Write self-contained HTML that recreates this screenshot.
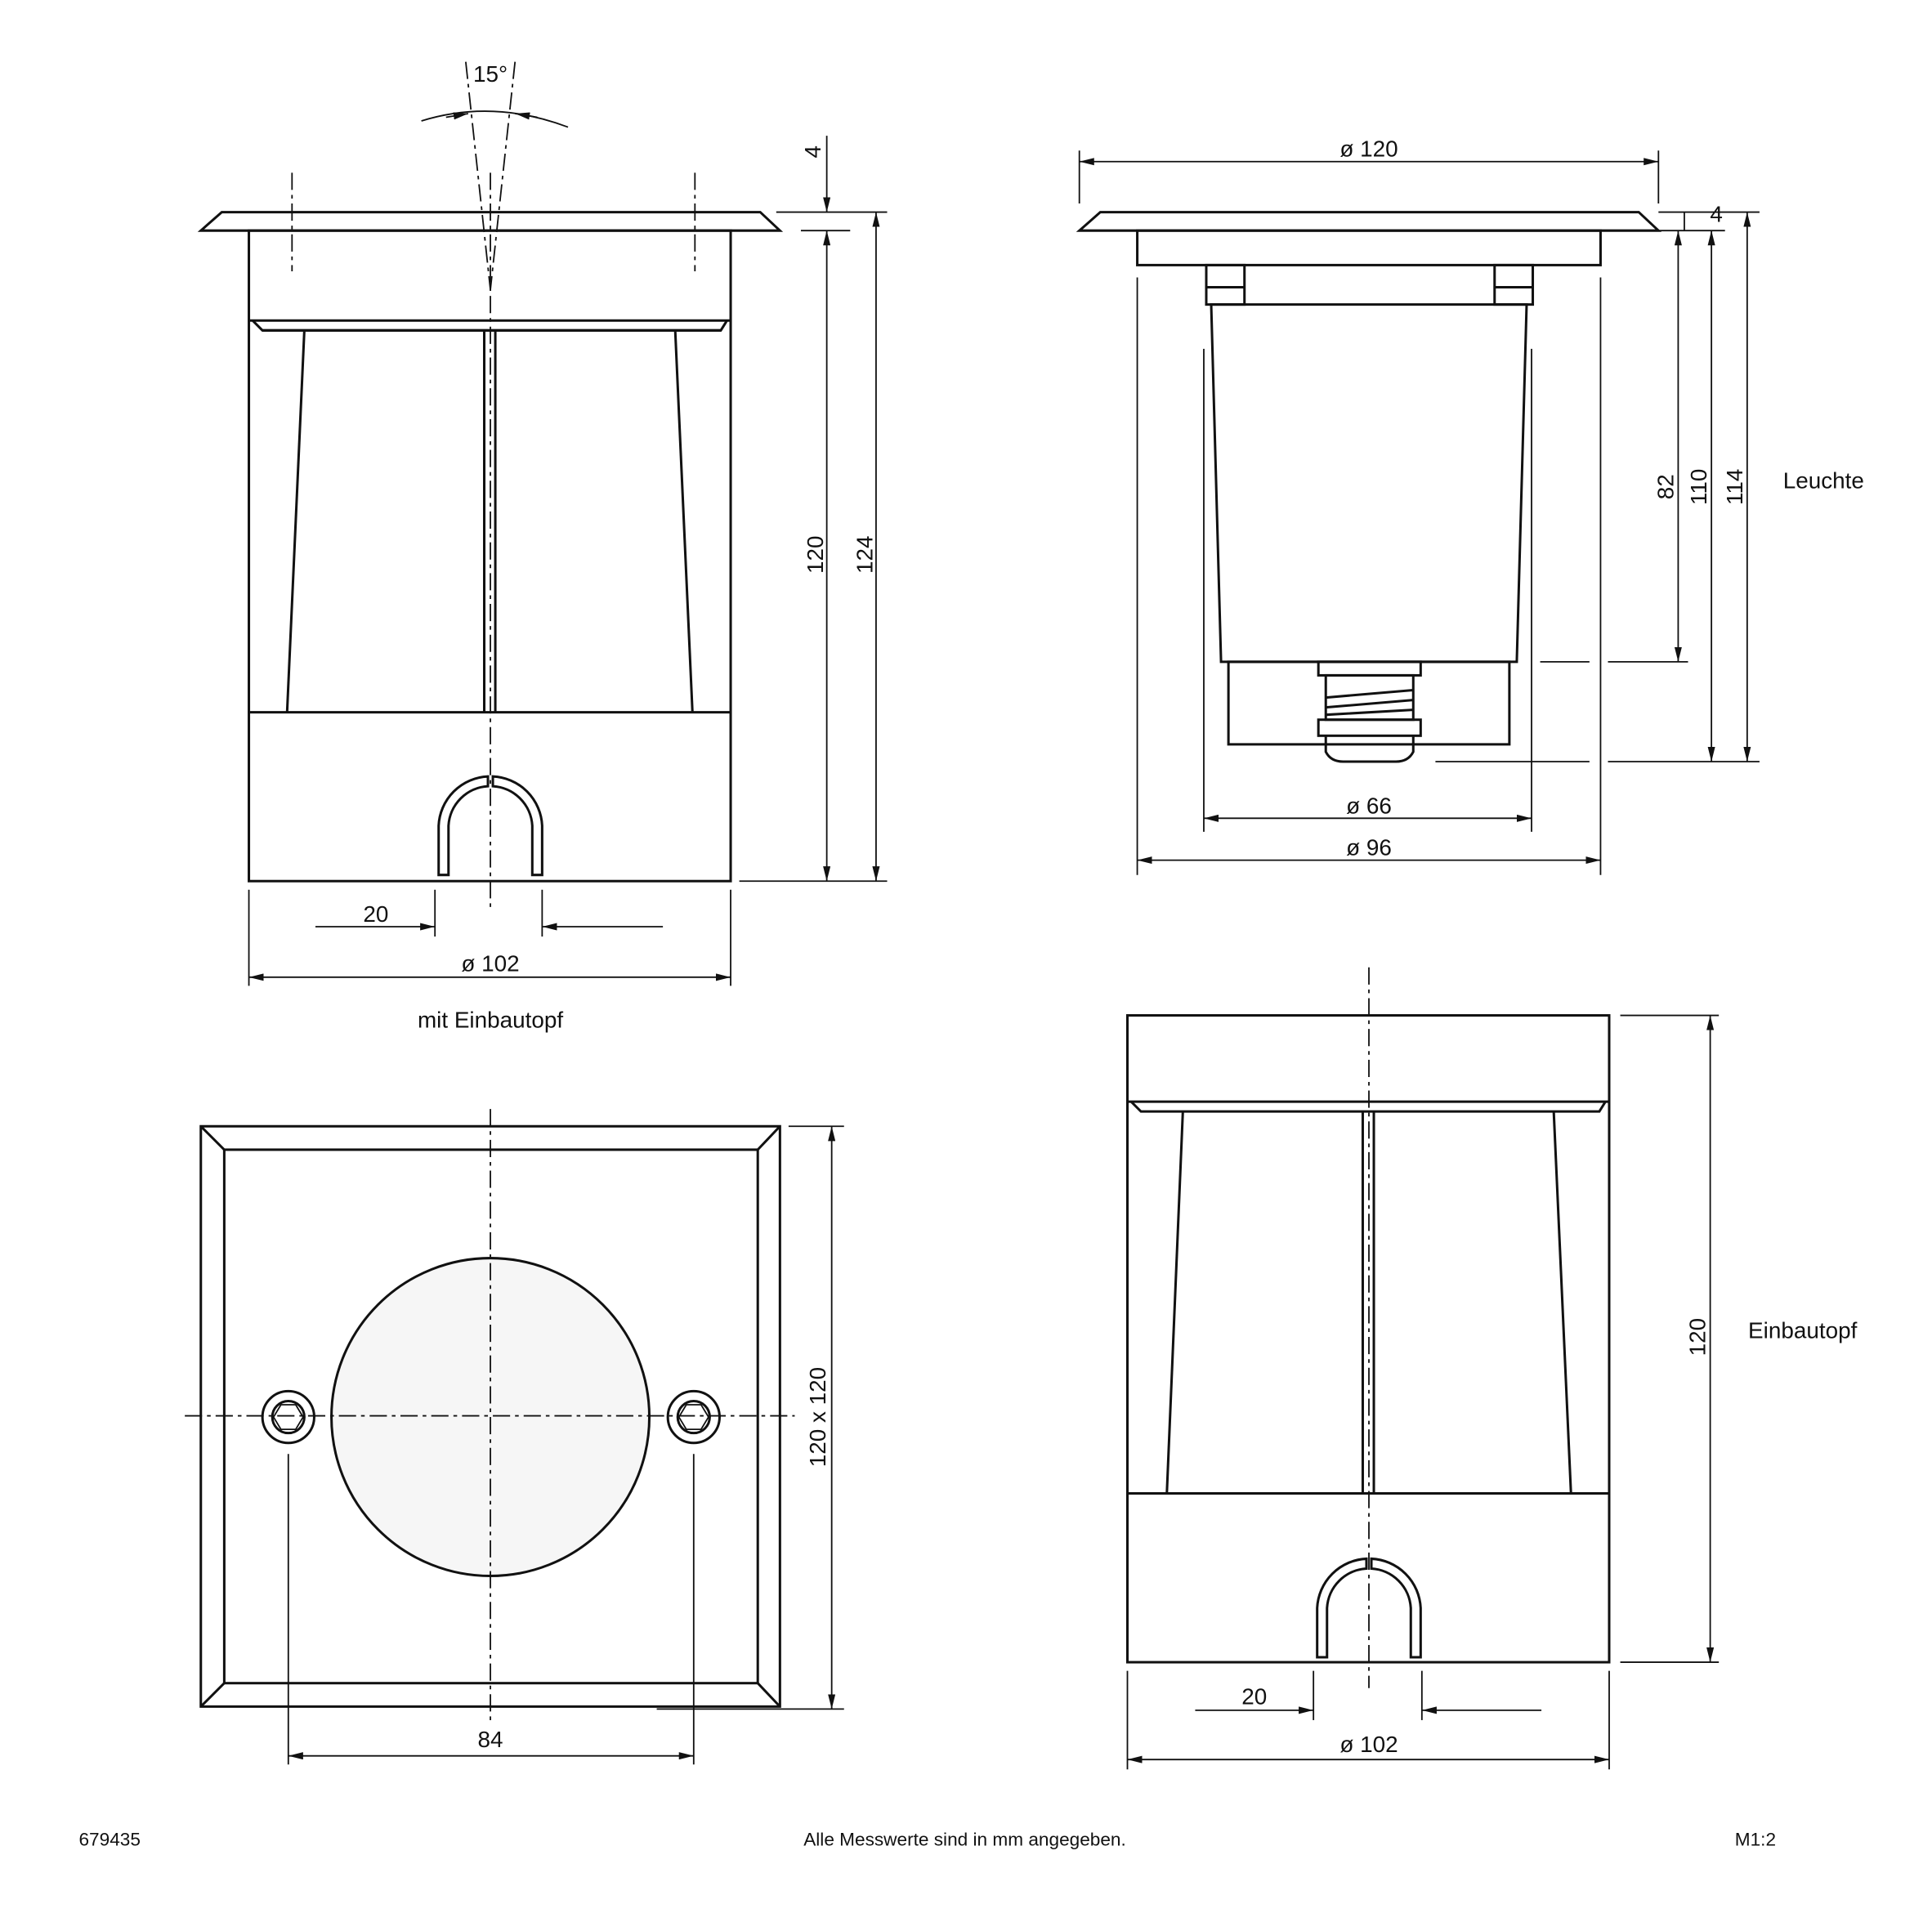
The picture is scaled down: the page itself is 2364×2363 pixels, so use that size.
<!DOCTYPE html>
<html><head><meta charset="utf-8"><style>
html,body{margin:0;padding:0;background:#fff}
svg{display:block}
text{font-family:"Liberation Sans",sans-serif;font-size:18.5px;fill:#111}
</style></head><body>
<svg width="2364" height="2363" viewBox="0 0 1568 1567" xmlns="http://www.w3.org/2000/svg">
<defs>
<marker id="a" viewBox="0 0 12 6" refX="12" refY="3" markerWidth="12" markerHeight="6" orient="auto-start-reverse" markerUnits="userSpaceOnUse"><path d="M0,0 L12,3 L0,6z" fill="#111"/></marker>
</defs>
<g fill="none" stroke="#111" stroke-width="2">
<!-- TOP LEFT -->
<path d="M180,172 L617,172 L633,187 L163,187 Z"/>
<rect x="202" y="187" width="391" height="528"/>
<line x1="202" y1="260" x2="593" y2="260"/>
<path d="M205,260 L213,268 L585,268 L590,260"/>
<line x1="213" y1="268" x2="585" y2="268"/>
<path d="M393,268 L393,578 M402,268 L402,578"/>
<line x1="247" y1="268" x2="233" y2="578"/>
<line x1="548" y1="268" x2="562" y2="578"/>
<line x1="202" y1="578" x2="593" y2="578"/>
<path d="M396,630 A42,42 0 0 0 356,670 L356,710 L364,710 L364,670 A34,34 0 0 1 396,638 Z"/>
<path d="M400,630 A42,42 0 0 1 440,670 L440,710 L432,710 L432,670 A34,34 0 0 0 400,638 Z"/>
</g>
<g fill="none" stroke="#111" stroke-width="1.2" stroke-dasharray="14,4,3,4">
<line x1="398" y1="140" x2="398" y2="740"/>
<line x1="237" y1="140" x2="237" y2="220"/>
<line x1="564" y1="140" x2="564" y2="220"/>
<line x1="378" y1="50" x2="398" y2="235"/>
<line x1="418" y1="50" x2="398" y2="235"/>
</g>
<g fill="none" stroke="#111" stroke-width="1.2">
<path d="M342,98 Q400,80 461,103"/>
<line x1="362" y1="95" x2="380" y2="92" marker-end="url(#a)"/>
<line x1="436" y1="95" x2="418" y2="92" marker-end="url(#a)"/>
<line x1="671" y1="110" x2="671" y2="172" marker-end="url(#a)"/>
<line x1="671" y1="187" x2="671" y2="715" marker-start="url(#a)" marker-end="url(#a)"/>
<line x1="711" y1="172" x2="711" y2="715" marker-start="url(#a)" marker-end="url(#a)"/>
<line x1="630" y1="172" x2="720" y2="172"/>
<line x1="650" y1="187" x2="690" y2="187"/>
<line x1="600" y1="715" x2="720" y2="715"/>
<line x1="256" y1="752" x2="353" y2="752" marker-end="url(#a)"/>
<line x1="538" y1="752" x2="440" y2="752" marker-end="url(#a)"/>
<line x1="202" y1="793" x2="593" y2="793" marker-start="url(#a)" marker-end="url(#a)"/>
<line x1="202" y1="722" x2="202" y2="800"/><line x1="593" y1="722" x2="593" y2="800"/>
<line x1="353" y1="722" x2="353" y2="760"/><line x1="440" y1="722" x2="440" y2="760"/>
</g>
<text x="398" y="66" text-anchor="middle">15°</text>
<text x="668" y="450" text-anchor="middle" transform="rotate(-90 668 450)">120</text>
<text x="708" y="450" text-anchor="middle" transform="rotate(-90 708 450)">124</text>
<text x="682" y="139" text-anchor="middle" transform="rotate(-90 666 139)">4</text>
<text x="305" y="748" text-anchor="middle">20</text>
<text x="398" y="788" text-anchor="middle">ø 102</text>
<text x="398" y="834" text-anchor="middle">mit Einbautopf</text>

<!-- TOP RIGHT -->
<g fill="none" stroke="#111" stroke-width="2">
<path d="M893,172 L1330,172 L1346,187 L876,187 Z"/>
<rect x="923" y="187" width="376" height="28"/>
<rect x="979" y="215" width="31" height="32"/><line x1="979" y1="233" x2="1010" y2="233"/>
<rect x="1213" y="215" width="31" height="32"/><line x1="1213" y1="233" x2="1244" y2="233"/>
<path d="M983,247 L991,537 L1231,537 L1239,247 Z"/>
<rect x="997" y="537" width="228" height="67"/>
<rect x="1070" y="537" width="83" height="11"/>
<rect x="1076" y="548" width="71" height="36"/>
<path d="M1076,566 L1147,560 M1076,574 L1147,568 M1076,580 L1147,576"/>
<rect x="1070" y="584" width="83" height="13"/>
<path d="M1076,597 L1076,610 Q1080,618 1090,618 L1133,618 Q1143,618 1147,610 L1147,597"/>
</g>
<g fill="none" stroke="#111" stroke-width="1.2">
<line x1="876" y1="131" x2="1346" y2="131" marker-start="url(#a)" marker-end="url(#a)"/>
<line x1="876" y1="122" x2="876" y2="165"/><line x1="1346" y1="122" x2="1346" y2="165"/>
<line x1="977" y1="664" x2="1243" y2="664" marker-start="url(#a)" marker-end="url(#a)"/>
<line x1="977" y1="283" x2="977" y2="675"/><line x1="1243" y1="283" x2="1243" y2="675"/>
<line x1="923" y1="698" x2="1299" y2="698" marker-start="url(#a)" marker-end="url(#a)"/>
<line x1="923" y1="225" x2="923" y2="710"/><line x1="1299" y1="225" x2="1299" y2="710"/>
<line x1="1367" y1="172" x2="1367" y2="187"/>
<line x1="1362" y1="187" x2="1362" y2="537" marker-start="url(#a)" marker-end="url(#a)"/>
<line x1="1389" y1="187" x2="1389" y2="618" marker-start="url(#a)" marker-end="url(#a)"/>
<line x1="1418" y1="172" x2="1418" y2="618" marker-start="url(#a)" marker-end="url(#a)"/>
<line x1="1346" y1="172" x2="1428" y2="172"/>
<line x1="1346" y1="187" x2="1400" y2="187"/>
<line x1="1250" y1="537" x2="1290" y2="537"/><line x1="1305" y1="537" x2="1370" y2="537"/>
<line x1="1165" y1="618" x2="1290" y2="618"/><line x1="1305" y1="618" x2="1428" y2="618"/>
</g>
<text x="1111" y="127" text-anchor="middle">ø 120</text>
<text x="1111" y="660" text-anchor="middle">ø 66</text>
<text x="1111" y="694" text-anchor="middle">ø 96</text>
<text x="1358" y="395" text-anchor="middle" transform="rotate(-90 1358 395)">82</text>
<text x="1385" y="395" text-anchor="middle" transform="rotate(-90 1385 395)">110</text>
<text x="1414" y="395" text-anchor="middle" transform="rotate(-90 1414 395)">114</text>
<text x="1393" y="180" text-anchor="middle">4</text>
<text x="1480" y="396" text-anchor="middle">Leuchte</text>

<!-- BOTTOM LEFT -->
<g fill="none" stroke="#111" stroke-width="2">
<rect x="163" y="914" width="470" height="471"/>
<rect x="182" y="933" width="433" height="433"/>
<path d="M163,914 L182,933 M633,914 L615,933 M163,1385 L182,1366 M633,1385 L615,1366"/>
<circle cx="398" cy="1150" r="129" fill="#f6f6f6"/>
<circle cx="234" cy="1150" r="21"/><circle cx="234" cy="1150" r="13"/>
<path d="M222,1150 L228,1140 L240,1140 L246,1150 L240,1160 L228,1160 Z" stroke-width="1.2"/>
<circle cx="563" cy="1150" r="21"/><circle cx="563" cy="1150" r="13"/>
<path d="M551,1150 L557,1140 L569,1140 L575,1150 L569,1160 L557,1160 Z" stroke-width="1.2"/>
</g>
<g fill="none" stroke="#111" stroke-width="1.2" stroke-dasharray="14,4,3,4">
<line x1="150" y1="1149" x2="645" y2="1149"/>
<line x1="398" y1="900" x2="398" y2="1400"/>
</g>
<g fill="none" stroke="#111" stroke-width="1.2">
<line x1="234" y1="1180" x2="234" y2="1432"/><line x1="563" y1="1180" x2="563" y2="1432"/>
<line x1="234" y1="1425" x2="563" y2="1425" marker-start="url(#a)" marker-end="url(#a)"/>
<line x1="675" y1="914" x2="675" y2="1387" marker-start="url(#a)" marker-end="url(#a)"/>
<line x1="640" y1="914" x2="685" y2="914"/><line x1="533" y1="1387" x2="685" y2="1387"/>
</g>
<text x="398" y="1418" text-anchor="middle">84</text>
<text x="670" y="1150" text-anchor="middle" transform="rotate(-90 670 1150)">120 x 120</text>

<!-- BOTTOM RIGHT -->
<g fill="none" stroke="#111" stroke-width="2">
<rect x="915" y="824" width="391" height="525"/>
<line x1="915" y1="894" x2="1306" y2="894"/>
<path d="M918,894 L926,902 L1298,902 L1303,894"/>
<path d="M1106,902 L1106,1212 M1115,902 L1115,1212"/>
<line x1="960" y1="902" x2="947" y2="1212"/>
<line x1="1261" y1="902" x2="1275" y2="1212"/>
<line x1="915" y1="1212" x2="1306" y2="1212"/>
<path d="M1109,1265 A42,42 0 0 0 1069,1305 L1069,1345 L1077,1345 L1077,1305 A34,34 0 0 1 1109,1273 Z"/>
<path d="M1113,1265 A42,42 0 0 1 1153,1305 L1153,1345 L1145,1345 L1145,1305 A34,34 0 0 0 1113,1273 Z"/>
</g>
<g fill="none" stroke="#111" stroke-width="1.2" stroke-dasharray="14,4,3,4">
<line x1="1111" y1="785" x2="1111" y2="1370"/>
</g>
<g fill="none" stroke="#111" stroke-width="1.2">
<line x1="1388" y1="824" x2="1388" y2="1349" marker-start="url(#a)" marker-end="url(#a)"/>
<line x1="1315" y1="824" x2="1395" y2="824"/><line x1="1315" y1="1349" x2="1395" y2="1349"/>
<line x1="970" y1="1388" x2="1066" y2="1388" marker-end="url(#a)"/>
<line x1="1251" y1="1388" x2="1154" y2="1388" marker-end="url(#a)"/>
<line x1="1066" y1="1356" x2="1066" y2="1396"/><line x1="1154" y1="1356" x2="1154" y2="1396"/>
<line x1="915" y1="1428" x2="1306" y2="1428" marker-start="url(#a)" marker-end="url(#a)"/>
<line x1="915" y1="1356" x2="915" y2="1436"/><line x1="1306" y1="1356" x2="1306" y2="1436"/>
</g>
<text x="1384" y="1085" text-anchor="middle" transform="rotate(-90 1384 1085)">120</text>
<text x="1463" y="1086" text-anchor="middle">Einbautopf</text>
<text x="1018" y="1383" text-anchor="middle">20</text>
<text x="1111" y="1422" text-anchor="middle">ø 102</text>

<!-- FOOTER -->
<text x="64" y="1498" style="font-size:15px">679435</text>
<text x="783" y="1498" text-anchor="middle" style="font-size:15px">Alle Messwerte sind in mm angegeben.</text>
<text x="1408" y="1498" style="font-size:15px">M1:2</text>
</svg>
</body></html>
